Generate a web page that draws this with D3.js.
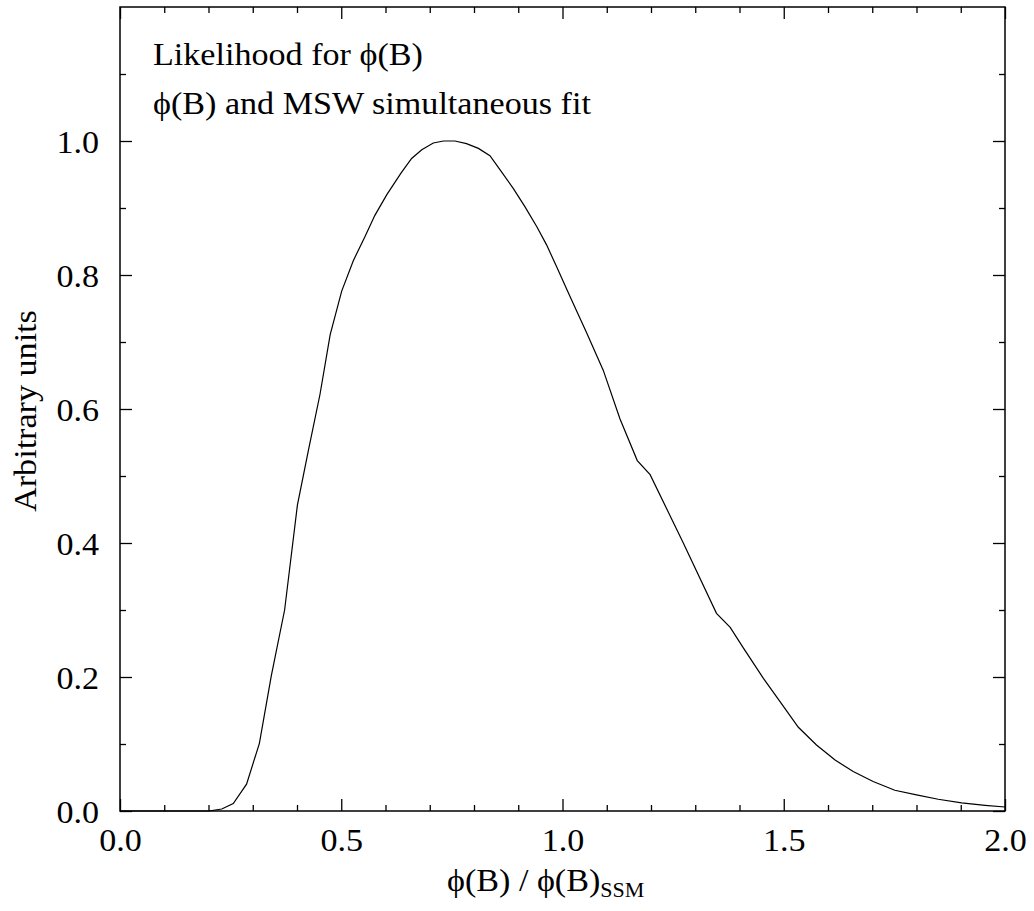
<!DOCTYPE html>
<html>
<head>
<meta charset="utf-8">
<script src="https://cdn.jsdelivr.net/npm/d3@7"></script>
<style>
  html,body{margin:0;padding:0;background:#fff;}
  svg text{font-family:"Liberation Serif","Times New Roman",serif;fill:#000;}
</style>
</head>
<body>
<svg id="chart" width="1034" height="911"></svg>
<script>
/* likelihood curve, phi(B) / phi(B)_SSM */

// ---------- data ----------
const ratio = [0, 0.1, 0.2, 0.23, 0.256, 0.286, 0.315, 0.342, 0.372, 0.401, 0.426, 0.452,
  0.475, 0.501, 0.527, 0.554, 0.576, 0.603, 0.635, 0.659, 0.682, 0.708, 0.731, 0.757,
  0.783, 0.810, 0.836, 0.859, 0.889, 0.915, 0.942, 0.964, 0.987, 1.017, 1.055, 1.092,
  1.130, 1.169, 1.198, 1.273, 1.348, 1.379, 1.409, 1.454, 1.492, 1.533, 1.574, 1.616,
  1.657, 1.702, 1.751, 1.800, 1.849, 1.902, 1.955, 2.0];
const likelihood = [0, 0, 0, 0.003, 0.011, 0.040, 0.101, 0.202, 0.300, 0.457, 0.539, 0.622,
  0.711, 0.776, 0.821, 0.858, 0.889, 0.920, 0.952, 0.974, 0.987, 0.997, 1.0, 1.0,
  0.996, 0.989, 0.978, 0.957, 0.929, 0.902, 0.872, 0.845, 0.812, 0.768, 0.713, 0.658,
  0.585, 0.523, 0.502, 0.400, 0.295, 0.274, 0.243, 0.198, 0.163, 0.125, 0.0985, 0.076,
  0.059, 0.044, 0.031, 0.024, 0.0175, 0.012, 0.0085, 0.006];

const xMajor = [0, 0.5, 1.0, 1.5, 2.0];
const xMinor = [0.1,0.2,0.3,0.4,0.6,0.7,0.8,0.9,1.1,1.2,1.3,1.4,1.6,1.7,1.8,1.9];
const yMajor = [0, 0.2, 0.4, 0.6, 0.8, 1.0];
const yMinor = [0.1, 0.3, 0.5, 0.7, 0.9, 1.1];
const PHI = "\u03D5";
const legendLines = [`Likelihood for ${PHI}(B)`, `${PHI}(B) and MSW simultaneous fit`];

// ---------- layout ----------
const L=120, R=1005, T=7, B=811, FS=31, WIDEN=1.1;

const svg = d3.select("#chart");
const x = d3.scaleLinear().domain([0,2]).range([L,R]);
const y = d3.scaleLinear().domain([0,1.2]).range([B,T]);

// the original lettering is a bit wider than Liberation Serif
function widen(sel){
  sel.each(function(){
    const len = this.getComputedTextLength();
    d3.select(this).attr("textLength", len*WIDEN).attr("lengthAdjust","spacingAndGlyphs");
  });
}

function tickAxis(axis, pos, vals, size, fmt, pad){
  const g = svg.append("g").attr("transform", pos)
    .call(axis.tickValues(vals).tickSize(-size).tickSizeOuter(0)
      .tickFormat(fmt).tickPadding(pad));
  g.select(".domain").remove();
  g.selectAll("line").attr("stroke","#000").attr("stroke-width",1.3);
  g.selectAll("text").style("font-size",FS+"px").attr("font-family",null);
  return g;
}
const f1 = d3.format(".1f"), none = () => "";

// bottom
const gb = tickAxis(d3.axisBottom(x), `translate(0,${B})`, xMajor, 12, f1, 18);
gb.selectAll("text").attr("dy","0.71em").call(widen);
tickAxis(d3.axisBottom(x), `translate(0,${B})`, xMinor, 6, none, 0);
// top
tickAxis(d3.axisTop(x), `translate(0,${T})`, xMajor, 12, none, 0);
tickAxis(d3.axisTop(x), `translate(0,${T})`, xMinor, 6, none, 0);
// left
const gl = tickAxis(d3.axisLeft(y), `translate(${L},0)`, yMajor, 12, f1, 21);
gl.selectAll("text").attr("dy","0.38em").call(widen);
tickAxis(d3.axisLeft(y), `translate(${L},0)`, yMinor, 6, none, 0);
// right
tickAxis(d3.axisRight(y), `translate(${R},0)`, yMajor, 12, none, 0);
tickAxis(d3.axisRight(y), `translate(${R},0)`, yMinor, 6, none, 0);

// frame
svg.append("rect").attr("x",L).attr("y",T).attr("width",R-L).attr("height",B-T)
  .attr("fill","none").attr("stroke","#000").attr("stroke-width",1.5);

// curve
const pts = d3.zip(ratio, likelihood);
svg.append("path").datum(pts)
  .attr("fill","none").attr("stroke","#000").attr("stroke-width",1.2)
  .attr("d", d3.line().x(d=>x(d[0])).y(d=>y(d[1])));

// text block inside the plot
svg.selectAll("text.leg").data(legendLines).enter().append("text").attr("class","leg")
  .attr("x",153).attr("y",(d,i)=>65+i*49).style("font-size",FS+"px").text(d=>d)
  .call(widen);

// x label
const xl = svg.append("g").attr("transform",`translate(447,891) scale(${WIDEN},1)`)
  .append("text").style("font-size",FS+"px");
xl.append("tspan").text(`${PHI}(B) / ${PHI}(B)`);
xl.append("tspan").attr("dy",6).style("font-size","20px").text("SSM");

// y label
svg.append("text").attr("transform","translate(36,411) rotate(-90)")
  .attr("text-anchor","middle").style("font-size",FS+"px").text("Arbitrary units")
  .call(widen);
</script>
</body>
</html>
